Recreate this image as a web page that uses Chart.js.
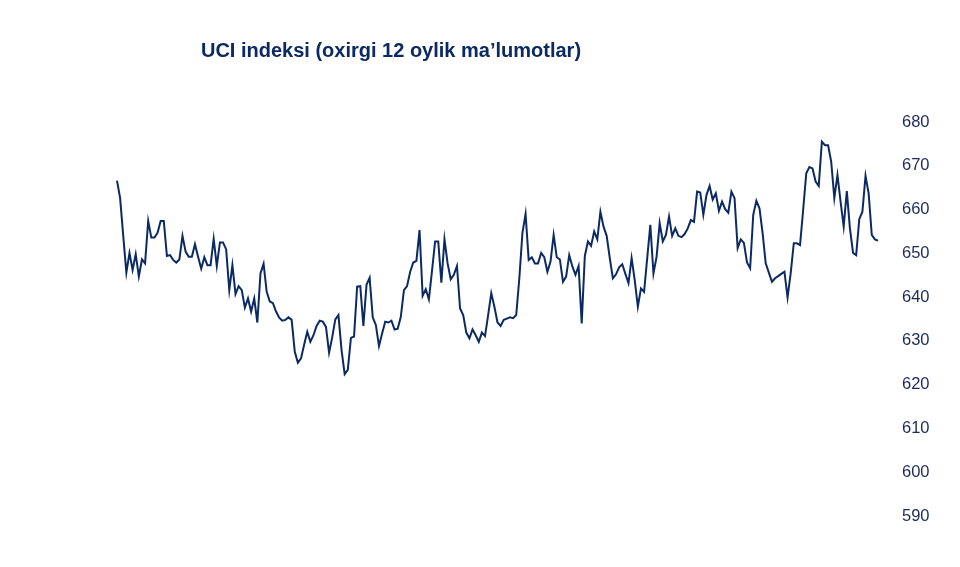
<!DOCTYPE html>
<html>
<head>
<meta charset="utf-8">
<script src="https://cdn.jsdelivr.net/npm/chart.js@4"></script>
<style>
  html, body { margin: 0; padding: 0; background: #ffffff; }
  #wrap { width: 960px; height: 567px; position: relative; }
</style>
</head>
<body>
<div id="wrap"><canvas id="c" width="960" height="567"></canvas></div>
<script>
const chartTitle = "UCI indeksi (oxirgi 12 oylik ma\u2019lumotlar)";

const uciValues = [
  666.6, 662.6, 654.0, 645.6, 650.1, 646.2, 649.8, 644.7, 648.6, 647.7,
  657.4, 653.6, 653.6, 654.7, 657.4, 657.4, 649.4, 649.6, 648.5, 647.9,
  648.6, 654.0, 650.4, 649.2, 649.2, 652.1, 649.2, 646.5, 649.1, 647.3,
  647.3, 653.3, 647.1, 652.5, 652.5, 650.9, 641.6, 647.3, 640.7, 642.5,
  641.6, 637.6, 639.7, 636.7, 639.7, 634.2, 645.4, 647.6,
  641.2, 639.0, 638.6, 636.7, 635.3, 634.6, 634.8, 635.4, 634.8, 627.5,
  625.0, 626.0, 629.1, 632.1, 629.8, 631.3, 633.4, 634.6, 634.4, 633.2,
  627.3, 630.8, 634.9, 635.9, 627.9, 622.4, 623.4, 630.7, 631.0, 642.4,
  642.5, 633.4, 642.8, 644.4, 635.4, 633.6, 628.8, 631.7, 634.4, 634.2,
  634.6, 632.6, 632.8, 635.5, 641.6, 642.5, 645.8, 647.9, 648.3,
  655.3, 640.3, 641.8, 639.5, 646.0, 652.7, 652.7, 643.3, 653.2, 647.7,
  644.1, 645.1, 647.1, 637.4, 635.9, 631.9, 630.6, 632.6, 631.3, 629.8,
  631.9, 631.1, 635.9, 640.9, 637.8, 634.2, 633.4, 634.8, 635.1, 635.4,
  635.2, 635.9, 644.3, 654.7, 659.0, 648.5, 649.1, 647.7, 647.7, 650.1,
  649.1, 645.8, 648.1, 654.2, 649.1, 648.6, 643.5, 644.7, 649.6,
  647.0, 645.1, 647.1, 634.0, 649.4, 652.7, 651.7, 655.0, 653.2, 659.5,
  656.1, 654.0, 648.9, 644.3, 645.2, 646.8, 647.5, 645.3, 643.2, 648.9,
  643.9, 637.8, 642.0, 641.2, 648.9, 656.5, 645.4, 649.2, 656.9, 652.7,
  654.2, 658.4, 654.0, 655.7, 654.0, 653.7, 654.4, 655.7, 657.6, 657.2,
  664.1, 663.9, 658.8, 663.3, 665.4,
  662.3, 663.7, 659.7, 661.8, 660.1, 659.3, 664.1, 662.6, 651.2, 653.2,
  652.4, 647.9, 646.6, 658.8, 662.0, 660.3, 654.6, 647.7, 645.6, 643.5,
  644.3, 644.8, 645.3, 645.8, 639.9, 645.4, 652.3, 652.3, 651.9, 659.9,
  668.3, 669.7, 669.4, 666.4, 665.4, 675.5, 674.7, 674.7, 670.9, 662.6,
  667.9, 661.8, 656.1, 664.2, 655.7, 650.1, 649.6, 657.8, 659.5, 667.7,
  663.7, 654.2, 653.2, 652.9
];

const dayLabels = uciValues.map((_, i) => String(i + 1));

const yTickValues = [590, 600, 610, 620, 630, 640, 650, 660, 670, 680];

const navy = '#0b2a63';

const titlePlugin = {
  id: 'customTitle',
  afterDraw(chart) {
    const ctx = chart.ctx;
    ctx.save();
    ctx.font = 'bold 20px "Liberation Sans", Arial, sans-serif';
    ctx.fillStyle = navy;
    ctx.textAlign = 'center';
    ctx.textBaseline = 'middle';
    ctx.fillText(chartTitle, 391, 51);
    ctx.restore();
  }
};

new Chart(document.getElementById('c'), {
  type: 'line',
  data: {
    labels: dayLabels,
    datasets: [{
      data: uciValues,
      borderColor: navy,
      borderWidth: 2,
      pointRadius: 0,
      tension: 0,
      fill: false
    }]
  },
  options: {
    responsive: false,
    animation: false,
    layout: { padding: { left: 117, right: 0, top: 122, bottom: 51 } },
    plugins: {
      legend: { display: false },
      title: { display: false },
      tooltip: { enabled: false }
    },
    scales: {
      x: {
        display: false,
        offset: false
      },
      y: {
        position: 'right',
        min: 590,
        max: 680,
        afterBuildTicks(axis) {
          axis.ticks = yTickValues.map(v => ({ value: v }));
        },
        afterFit(axis) {
          axis.width = 82;
        },
        grid: { display: false },
        border: { display: false },
        ticks: {
          padding: 16,
          color: '#1a2a5a',
          font: { family: '"Liberation Sans", Arial, sans-serif', size: 16.5 }
        }
      }
    }
  },
  plugins: [titlePlugin]
});
</script>
</body>
</html>
